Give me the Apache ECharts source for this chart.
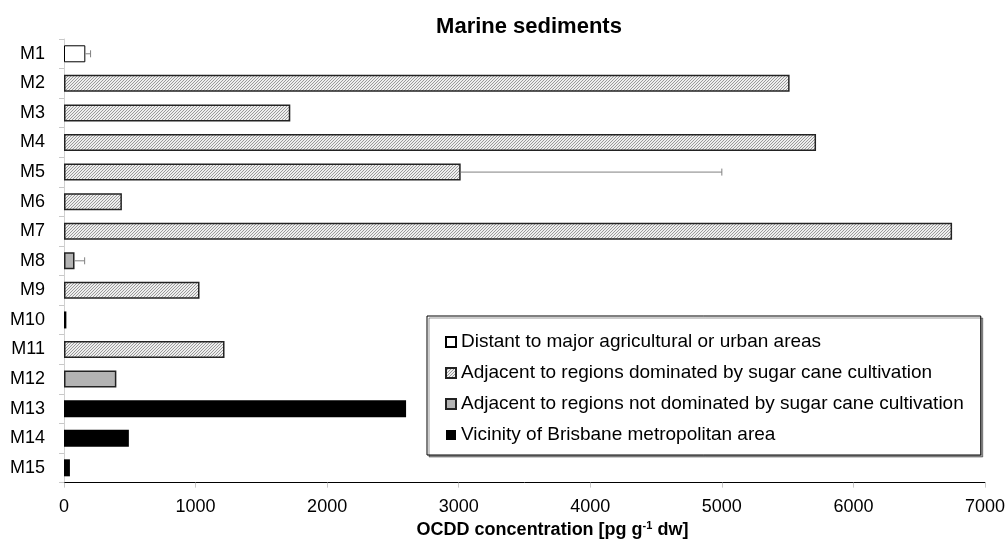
<!DOCTYPE html>
<html>
<head>
<meta charset="utf-8">
<script src="https://cdn.jsdelivr.net/npm/echarts@6/dist/echarts.min.js"></script>
<style>
html, body { margin: 0; padding: 0; background: #fff; }
#chart { width: 1008px; height: 544px; }
</style>
</head>
<body>
<div id="chart"></div>
<script>
// sites, top to bottom
const sites = ['M1', 'M2', 'M3', 'M4', 'M5', 'M6', 'M7', 'M8', 'M9', 'M10', 'M11', 'M12', 'M13', 'M14', 'M15'];
// OCDD concentration [pg/g dw]
const ocdd = [162, 5515, 1720, 5716, 3015, 440, 6750, 80, 1030, 18, 1220, 398, 2600, 493, 45];
// upper error (only where drawn)
const ocddErr = [40, 0, 0, 0, 1985, 0, 0, 77, 0, 0, 0, 0, 0, 0, 0];
// region group of each site (index into groupNames)
const siteGroup = [0, 1, 1, 1, 1, 1, 1, 2, 1, 3, 1, 2, 3, 3, 3];
const groupNames = [
	'Distant to major agricultural or urban areas',
	'Adjacent to regions dominated by sugar cane cultivation',
	'Adjacent to regions not dominated by sugar cane cultivation',
	'Vicinity of Brisbane metropolitan area'
];

// hatch pattern (fine ///)
function hatch() {
	const c = document.createElement('canvas');
	c.width = 3;
	c.height = 3;
	const ctx = c.getContext('2d');
	ctx.fillStyle = '#eeeeee';
	ctx.fillRect(0, 0, 3, 3);
	ctx.fillStyle = '#9a9a9a';
	for (let i = 0; i < 3; i++) {
		ctx.fillRect(i, 2 - i, 1, 1);
	}
	return c;
}

const groupStyles = [
	{ color: '#ffffff', borderColor: '#000', borderWidth: 1 },
	{ color: { image: hatch(), repeat: 'repeat' }, borderColor: '#222', borderWidth: 1.5 },
	{ color: '#b3b3b3', borderColor: '#222', borderWidth: 1.5 },
	{ color: '#000000', borderColor: '#000', borderWidth: 0 }
];

const chart = echarts.init(document.getElementById('chart'));

const barSeries = groupNames.map((name, g) => ({
	name: name,
	type: 'bar',
	stack: 'all',
	barWidth: 17,
	itemStyle: groupStyles[g],
	data: ocdd.map((v, i) => siteGroup[i] === g ? v : '-')
}));

const errData = [];
ocdd.forEach((v, i) => {
	if (ocddErr[i] > 0) errData.push([v, ocddErr[i], i]);
});

const option = {
	animation: false,
	title: {
		text: 'Marine sediments',
		left: 524,
		top: 11,
		textAlign: 'center',
		textStyle: {
			fontFamily: 'Liberation Sans',
			fontSize: 22,
			fontWeight: 'bold',
			color: '#000'
		}
	},
	grid: {
		left: 64,
		right: 22,
		top: 39,
		bottom: 60
	},
	legend: {
		orient: 'vertical',
		left: 427,
		top: 316,
		padding: [16, 17, 10, 18],
		itemGap: 11,
		itemWidth: 10,
		itemHeight: 10,
		itemTextGap: 12,
		icon: 'rect',
		borderColor: '#000',
		borderWidth: 1,
		backgroundColor: '#fff',
		shadowColor: 'rgba(0,0,0,0.4)',
		shadowOffsetX: 2,
		shadowOffsetY: 2,
		textStyle: {
			fontFamily: 'Liberation Sans',
			fontSize: 19,
			lineHeight: 20,
			color: '#000'
		},
		data: groupNames
	},
	xAxis: {
		type: 'value',
		min: 0,
		max: 7000,
		interval: 1000,
		name: 'OCDD concentration [pg g{sup|-1} dw]',
		nameLocation: 'middle',
		nameGap: 36,
		nameTextStyle: {
			fontFamily: 'Liberation Sans',
			fontSize: 18,
			fontWeight: 'bold',
			color: '#000',
			padding: [0, 0, 0, 56],
			rich: {
				sup: {
					fontFamily: 'Liberation Sans',
					fontSize: 11,
					fontWeight: 'bold',
					verticalAlign: 'top',
					padding: [0, 0, 8, 0]
				}
			}
		},
		axisLine: { show: true, lineStyle: { color: '#000', width: 1 } },
		axisTick: { show: true, length: 5, lineStyle: { color: '#c8c8c8' } },
		axisLabel: {
			fontFamily: 'Liberation Sans',
			fontSize: 18,
			color: '#000',
			margin: 15,
			formatter: v => String(v)
		},
		splitLine: { show: false }
	},
	yAxis: {
		type: 'category',
		data: sites,
		inverse: true,
		axisLine: { show: true, lineStyle: { color: '#d0d0d0' } },
		axisTick: { show: true, length: 5, lineStyle: { color: '#c8c8c8' } },
		axisLabel: {
			fontFamily: 'Liberation Sans',
			fontSize: 18,
			color: '#000',
			margin: 19
		}
	},
	series: barSeries.concat([{
		type: 'custom',
		name: 'error',
		data: errData,
		encode: { x: [0, 1], y: 2 },
		z: 3,
		renderItem: function(params, api) {
			const v = api.value(0);
			const e = api.value(1);
			const c = api.value(2);
			const p0 = api.coord([v, c]);
			const p1 = api.coord([v + e, c]);
			const st = { stroke: '#808080', lineWidth: 1 };
			return {
				type: 'group',
				children: [{
					type: 'line',
					shape: { x1: p0[0], y1: p0[1], x2: p1[0], y2: p1[1] },
					style: st
				}, {
					type: 'line',
					shape: { x1: p1[0], y1: p1[1] - 3.5, x2: p1[0], y2: p1[1] + 3.5 },
					style: st
				}]
			};
		}
	}])
};

chart.setOption(option);
</script>
</body>
</html>
